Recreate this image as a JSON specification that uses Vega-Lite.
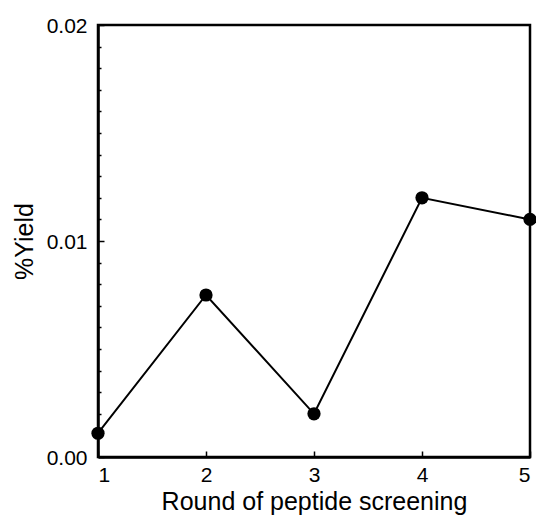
{
  "$schema": "https://vega.github.io/schema/vega-lite/v6.json",
  "autosize": "none",
  "width": 432,
  "height": 432,
  "padding": {"left": 98, "top": 25, "right": 6, "bottom": 58},
  "background": "white",
  "config": {
    "view": {"stroke": "black", "strokeWidth": 2.5},
    "font": "Liberation Sans",
    "axis": {
      "domainColor": "black",
      "domainWidth": 2.5,
      "tickColor": "black",
      "tickWidth": 1.5,
      "labelColor": "black",
      "titleColor": "black",
      "labelFont": "Liberation Sans",
      "titleFont": "Liberation Sans",
      "labelFontSize": 21,
      "titleFontSize": 25,
      "titleFontWeight": "normal",
      "grid": false
    }
  },
  "data": {
    "values": [
      {"round": 1, "yield": 0.0011},
      {"round": 2, "yield": 0.0075},
      {"round": 3, "yield": 0.002},
      {"round": 4, "yield": 0.012},
      {"round": 5, "yield": 0.011}
    ]
  },
  "layer": [
    {
      "mark": {"type": "line", "color": "black", "strokeWidth": 2},
      "encoding": {
        "x": {
          "field": "round", "type": "quantitative",
          "scale": {"domain": [1, 5], "nice": false},
          "axis": {"values": [1, 2, 3, 4, 5], "format": "d", "tickSize": -6, "labelPadding": 13, "title": "Round of peptide screening", "titlePadding": 4}
        },
        "y": {
          "field": "yield", "type": "quantitative",
          "scale": {"domain": [0, 0.02], "nice": false},
          "axis": {"values": [0, 0.01, 0.02], "format": ".2f", "tickSize": -6, "labelPadding": 17, "labelOffset": 1, "title": "%Yield", "titlePadding": 9}
        }
      }
    },
    {
      "mark": {"type": "point", "filled": true, "color": "black", "size": 175, "opacity": 1, "clip": false},
      "encoding": {
        "x": {"field": "round", "type": "quantitative"},
        "y": {
          "field": "yield", "type": "quantitative",
          "axis": {"orient": "left", "values": [0.001,0.002,0.003,0.004,0.005,0.006,0.007,0.008,0.009,0.011,0.012,0.013,0.014,0.015,0.016,0.017,0.018,0.019], "labels": false, "domain": false, "tickSize": -3, "title": null}
        }
      }
    }
  ],
  "resolve": {"axis": {"y": "independent"}}
}
